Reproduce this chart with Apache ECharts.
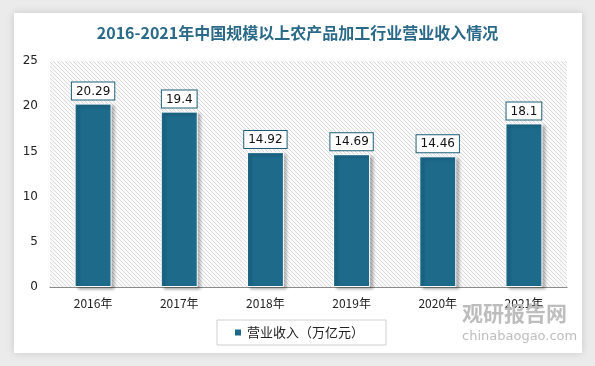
<!DOCTYPE html>
<html><head><meta charset="utf-8">
<script src="https://cdn.jsdelivr.net/npm/echarts@6/dist/echarts.min.js"></script>
<style>html,body{margin:0;padding:0;background:#ebebeb;}#c{width:595px;height:366px;}</style>
</head><body><div id="c"></div>
<script>
const categories = ['2016年','2017年','2018年','2019年','2020年','2021年'];
const revenue = [20.29, 19.4, 14.92, 14.69, 14.46, 18.1];
const seriesName = '营业收入（万亿元）';
const titleText = '2016-2021年中国规模以上农产品加工行业营业收入情况';

const pc = document.createElement('canvas');
pc.width = 4; pc.height = 4;
const g = pc.getContext('2d');
g.fillStyle = '#fafafa'; g.fillRect(0,0,4,4);
g.strokeStyle = '#d9d9d9'; g.lineWidth = 1;
g.beginPath(); g.moveTo(0,0); g.lineTo(4,4); g.stroke();
g.beginPath(); g.moveTo(-2,2); g.lineTo(2,6); g.stroke();
g.beginPath(); g.moveTo(2,-2); g.lineTo(6,2); g.stroke();

const chart = echarts.init(document.getElementById('c'));
chart.setOption({
  backgroundColor: '#ebebeb',
  animation: false,
  graphic: [
    {type:'rect', shape:{x:14,y:13,width:568,height:340}, style:{fill:'#fff', shadowBlur:8, shadowColor:'rgba(0,0,0,0.15)'}, z:-10},
    {type:'text', left:462, top:303, style:{text:'观研报告网', font:'bold 21px "Noto Sans CJK SC"', fill:'#bdbdbd'}, z:10},
    {type:'text', left:462, top:330, style:{text:'chinabaogao.com', font:'13px "DejaVu Sans"', fill:'#bdbdbd'}, z:10}
  ],
  title: {
    text: titleText, left: 'center', top: 20,
    textStyle: {fontFamily: '"Noto Sans CJK SC"', fontSize: 16, fontWeight: 'bold', color: '#2a6a88'}
  },
  grid: {left: 50, right: 28, top: 61, bottom: 79, show: true, borderWidth: 0,
    backgroundColor: {image: pc, repeat: 'repeat'}},
  legend: {
    bottom: 21, left: 217, itemWidth: 8, itemHeight: 8, icon: 'rect',
    padding: [6, 22, 6, 16], borderColor: '#cfcfcf', borderWidth: 1,
    textStyle: {fontFamily: '"Noto Sans CJK SC"', fontSize: 13, color: '#222'},
    data: [seriesName]
  },
  xAxis: {
    type: 'category', data: categories,
    axisLine: {lineStyle: {color: '#8a8a8a'}}, axisTick: {show: false},
    axisLabel: {fontFamily: '"Noto Sans CJK SC"', fontSize: 12, color: '#222', margin: 10}
  },
  yAxis: {
    type: 'value', min: 0, max: 25, interval: 5,
    axisLine: {show: false}, axisTick: {show: false}, splitLine: {show: false},
    axisLabel: {fontFamily: '"DejaVu Sans"', fontSize: 12, color: '#222', margin: 12}
  },
  series: [{
    name: seriesName, type: 'bar', data: revenue, barWidth: 37,
    itemStyle: {color: '#1d6a8b', borderColor: '#fff', borderWidth: 1,
      shadowColor: 'rgba(0,0,0,0.3)', shadowBlur: 3, shadowOffsetX: 3, shadowOffsetY: 2},
    label: {show: true, position: 'top', distance: 4, fontFamily: '"DejaVu Sans"', fontSize: 12, color: '#111',
      backgroundColor: '#fff', borderColor: '#1d5f78', borderWidth: 1, padding: [3, 4, 2, 4]}
  }]
});
</script></body></html>
